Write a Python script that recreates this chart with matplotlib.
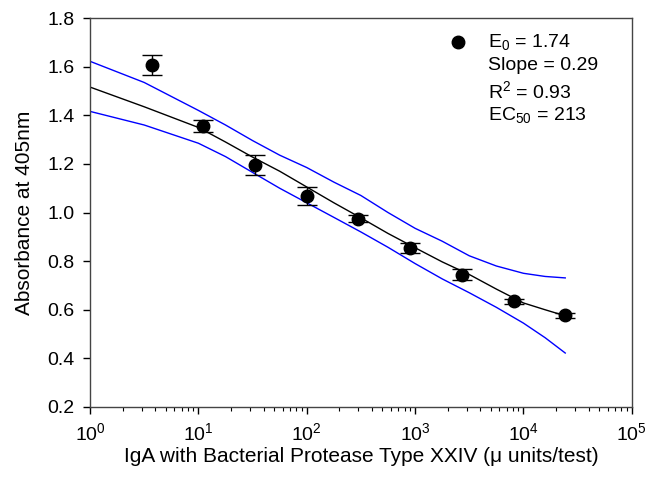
import numpy as np
import matplotlib
matplotlib.use('Agg')
import matplotlib.pyplot as plt
from matplotlib.ticker import LogLocator, FixedLocator

plt.rcParams['font.family'] = ['Liberation Sans', 'DejaVu Sans']
plt.rcParams['mathtext.fontset'] = 'custom'
plt.rcParams['mathtext.rm'] = 'Liberation Sans'
plt.rcParams['mathtext.it'] = 'Liberation Sans:italic'

# 측정값 (평균 ± 오차)
dose = [3.7, 11.1, 33.3, 100, 300, 900, 2700, 8100, 24300]
absorb = [1.607, 1.355, 1.195, 1.067, 0.975, 0.853, 0.745, 0.635, 0.577]
err = [0.04, 0.025, 0.04, 0.038, 0.015, 0.02, 0.022, 0.01, 0.01]

# 적합 곡선과 신뢰 구간
curve_x = [1, 3.16, 10, 17.8, 31.6, 56.2, 100, 178, 316, 562, 1000, 1778,
           3162, 5623, 10000, 15850, 24300]
fit = [1.516, 1.435, 1.35, 1.29, 1.228, 1.17, 1.105, 1.04, 0.978, 0.914, 0.855,
       0.797, 0.745, 0.685, 0.628, 0.60, 0.575]
upper = [1.622, 1.535, 1.42, 1.36, 1.296, 1.236, 1.185, 1.125, 1.07, 1.0, 0.935,
         0.882, 0.822, 0.78, 0.75, 0.737, 0.731]
lower = [1.416, 1.36, 1.285, 1.23, 1.165, 1.10, 1.04, 0.98, 0.92, 0.857, 0.79,
         0.727, 0.67, 0.61, 0.545, 0.485, 0.422]

stats = ['E$_0$ = 1.74', 'Slope = 0.29', 'R$^2$ = 0.93', 'EC$_{50}$ = 213']

fig = plt.figure(figsize=(6.48, 4.88), dpi=100)
ax = fig.add_axes([0.139, 0.166, 0.836, 0.797])

ax.plot(curve_x, fit, color='black', lw=1.0)
ax.plot(curve_x, upper, color='blue', lw=1.0)
ax.plot(curve_x, lower, color='blue', lw=1.0)
ax.errorbar(dose, absorb, yerr=err, fmt='o', color='black', ms=9,
            elinewidth=1.0, capsize=7, capthick=1.0, zorder=5)

ax.set_xscale('log')
ax.set_xlim(1, 1e5)
ax.set_ylim(0.2, 1.8)
ax.xaxis.set_major_locator(LogLocator(base=10, numticks=10))
ax.xaxis.set_minor_locator(LogLocator(base=10, subs=np.arange(2, 10), numticks=10))
ax.yaxis.set_major_locator(FixedLocator(np.arange(0.2, 1.81, 0.2)))
ax.set_yticklabels(['%.1f' % v for v in np.arange(0.2, 1.81, 0.2)])
ax.tick_params(which='major', direction='out', length=5, width=1, labelsize=14, pad=6)
ax.tick_params(which='minor', direction='out', length=3, width=0.8)
ax.tick_params(axis='y', which='minor', left=False)
for s in ax.spines.values():
    s.set_linewidth(1.0)
    s.set_color('#444444')

ax.set_xlabel('IgA with Bacterial Protease Type XXIV (\u03bc units/test)', fontsize=15, labelpad=2)
ax.set_ylabel('Absorbance at 405nm', fontsize=15, labelpad=10)

# 범례 대신 통계값
ax.plot([0.679], [0.939], 'o', color='black', ms=9, transform=ax.transAxes, clip_on=False)
for i, s in enumerate(stats):
    ax.text(0.734, 0.963 - i * 0.062, s, transform=ax.transAxes, fontsize=14, va='top')

fig.savefig('out.png', dpi=100)
